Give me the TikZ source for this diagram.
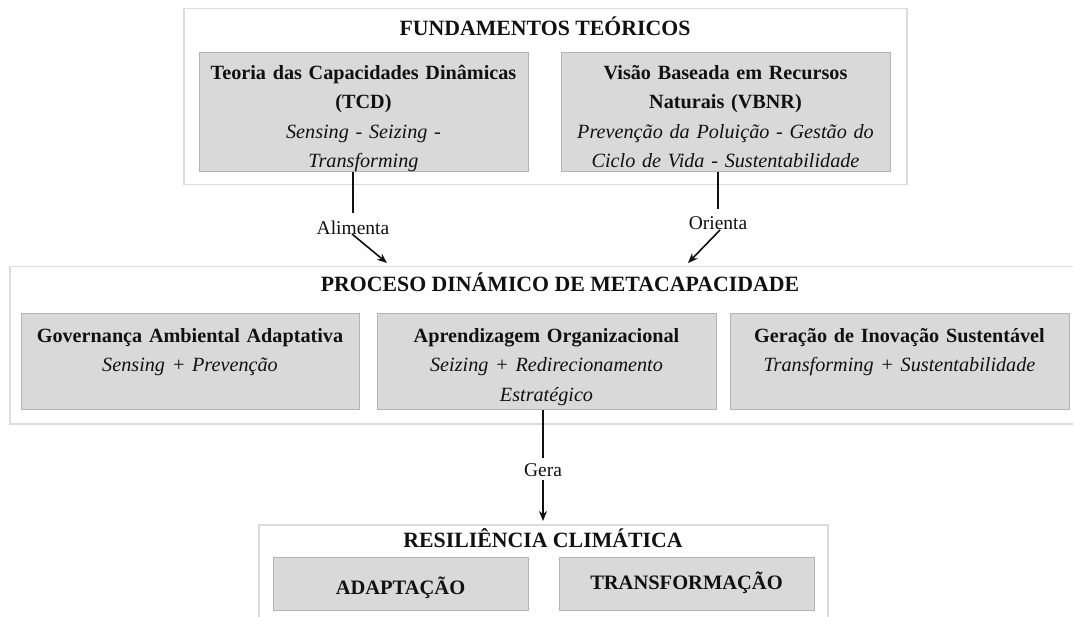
\documentclass[tikz,border=0pt]{standalone}
\usepackage{fontspec}
\setmainfont{Liberation Serif}
\usetikzlibrary{arrows.meta}
\definecolor{boxfill}{HTML}{D9D9D9}
\definecolor{boxline}{HTML}{B4B4B4}
\definecolor{outerline}{HTML}{DCDCDC}
\definecolor{ink}{HTML}{111111}
\begin{document}
\begin{tikzpicture}[x=1pt,y=-1pt,
  outerbox/.style={draw=outerline, line width=1.5pt, fill=white, inner sep=0, anchor=north west},
  innerbox/.style={draw=boxline, line width=1pt, fill=boxfill, inner sep=0, anchor=north west},
  boxtext/.style={anchor=north, inner sep=0, align=center, text width=330pt, text=ink, font=\fontsize{20.2}{29.5}\selectfont},
  titletext/.style={anchor=base, inner sep=0, text=ink, font=\fontsize{21.8}{26}\selectfont\bfseries},
  smalltitle/.style={anchor=base, inner sep=0, text=ink, font=\fontsize{20.5}{26}\selectfont\bfseries},
  linklabel/.style={anchor=base, inner sep=0, text=ink, font=\fontsize{19.5}{23}\selectfont},
  link/.style={draw=ink, line width=1.6pt},
  tip/.style={-{Stealth[length=10pt,width=8pt]}}
  ]
\useasboundingbox (0,0) rectangle (1073,617);
% outer boxes
\node[outerbox, minimum width=723pt, minimum height=176pt] (fund) at (183,8) {};
\node[outerbox, minimum width=1080pt, minimum height=157pt] (proc) at (9,266) {};
\node[outerbox, minimum width=569pt, minimum height=120pt] (resil) at (258,524) {};
% inner boxes
\node[innerbox, minimum width=329pt, minimum height=119pt] (tcd) at (199,52) {};
\node[innerbox, minimum width=329pt, minimum height=119pt] (vbnr) at (561,52) {};
\node[innerbox, minimum width=338pt, minimum height=96pt] (gov) at (21,313) {};
\node[innerbox, minimum width=339pt, minimum height=96pt] (apr) at (377,313) {};
\node[innerbox, minimum width=339pt, minimum height=96pt] (gen) at (730,313) {};
\node[innerbox, minimum width=255pt, minimum height=53pt] (adapt) at (273,557) {};
\node[innerbox, minimum width=255pt, minimum height=53pt] (trans) at (559,557) {};
% titles
\node[titletext] (fundtitle) at (545,36) {FUNDAMENTOS TEÓRICOS};
\node[titletext] (proctitle) at (560,292) {PROCESO DINÁMICO DE METACAPACIDADE};
\node[titletext] (resiltitle) at (543,547) {RESILIÊNCIA CLIMÁTICA};
% box texts
\node[boxtext] (tcdtxt) at (363.5,58.6) {\strut\textbf{Teoria das Capacidades Dinâmicas}\\\textbf{(TCD)}\\\textit{Sensing - Seizing -}\\\textit{Transforming}};
\node[boxtext] (vbnrtxt) at (725.5,58.6) {\strut\textbf{Visão Baseada em Recursos}\\\textbf{Naturais (VBNR)}\\\textit{Prevenção da Poluição - Gestão do}\\\textit{Ciclo de Vida - Sustentabilidade}};
\node[boxtext] (govtxt) at (190,321.6) {\strut\textbf{Governança Ambiental Adaptativa}\\\textit{Sensing + Prevenção}};
\node[boxtext] (aprtxt) at (546.5,321.6) {\strut\textbf{Aprendizagem Organizacional}\\\textit{Seizing + Redirecionamento}\\\textit{Estratégico}};
\node[boxtext] (gentxt) at (899.5,321.6) {\strut\textbf{Geração de Inovação Sustentável}\\\textit{Transforming + Sustentabilidade}};
\node[smalltitle] (adapttxt) at (400.5,594) {ADAPTAÇÃO};
\node[smalltitle] (transtxt) at (686.5,589) {TRANSFORMAÇÃO};
% connector labels
\node[linklabel] (alim) at (353,235) {Alimenta};
\node[linklabel] (ori) at (718,230) {Orienta};
\node[linklabel] (gera) at (543,476) {Gera};
% connectors
\coordinate (alimtop) at (353,213);
\coordinate (alimstart) at (352,234);
\coordinate (alimend) at (387,263);
\draw[link] (tcd.south -| alimtop) -- (alimtop);
\draw[link,tip] (alimstart) -- (alimend);
\coordinate (oritop) at (718,209);
\coordinate (oristart) at (720,230);
\coordinate (oriend) at (688,263);
\draw[link] (vbnr.south -| oritop) -- (oritop);
\draw[link,tip] (oristart) -- (oriend);
\coordinate (geratop) at (543,458);
\coordinate (gerastart) at (543,480);
\coordinate (geraend) at (543,521);
\draw[link] (apr.south -| geratop) -- (geratop);
\draw[link,tip] (gerastart) -- (geraend);
\end{tikzpicture}
\end{document}
